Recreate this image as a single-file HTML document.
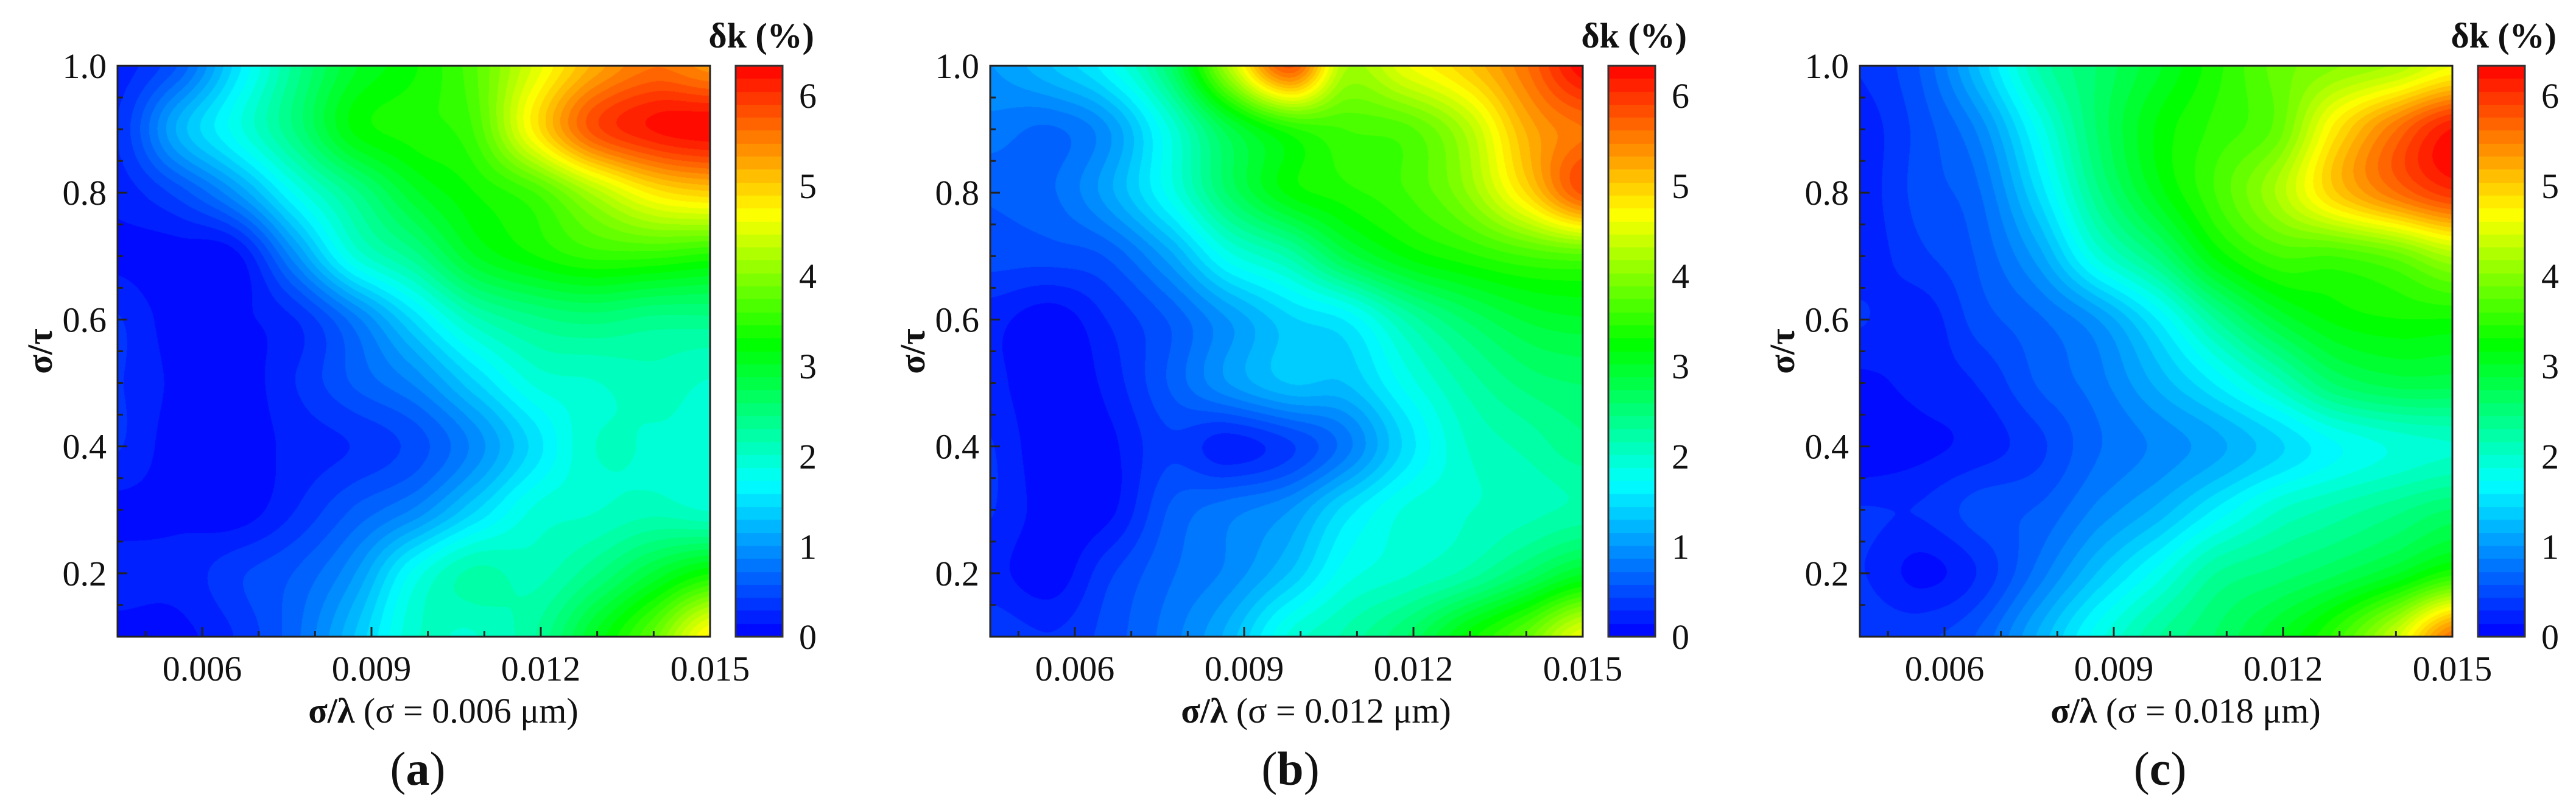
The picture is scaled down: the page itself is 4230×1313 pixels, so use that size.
<!DOCTYPE html>
<html><head><meta charset="utf-8"><style>
html,body{margin:0;padding:0;background:#fff;}
#root{position:relative;width:4230px;height:1313px;overflow:hidden;background:#fff;font-family:"Liberation Serif",serif;}
canvas{position:absolute;}
svg{position:absolute;left:0;top:0;}
svg text{font-family:"Liberation Serif",serif;}
</style></head><body>
<div id="root">
<svg id="ov" width="4230" height="1313"></svg>
</div>
<script>
const xVals=[0.0045,0.0056,0.0066,0.0077,0.0087,0.0098,0.0108,0.0119,0.0129,0.014,0.015];
const yVals=[1.0,0.9,0.8,0.7,0.6,0.5,0.4,0.3,0.2,0.1];
const panelAData=[
[0.2,0.6,1.5,2.4,3.0,3.3,3.7,4.5,5.2,5.6,5.4],
[0.3,1.2,1.8,2.5,3.2,3.4,3.6,4.8,5.8,6.2,6.3],
[0.2,0.5,1.0,1.8,2.4,3.0,3.3,3.6,4.2,4.8,5.0],
[0.1,0.05,0.1,1.0,1.9,2.4,3.0,3.3,3.5,3.5,3.4],
[0.3,0.05,0.1,0.3,0.8,1.5,2.1,2.4,2.5,2.4,2.4],
[0.3,0.1,0.05,0.3,0.6,0.9,1.4,1.9,2.0,2.1,2.0],
[0.3,0.05,0.05,0.2,0.3,0.5,0.9,1.5,2.0,2.0,2.0],
[0.1,0.1,0.05,0.3,0.6,0.9,1.4,1.9,2.0,2.1,2.0],
[0.2,0.2,0.4,0.6,1.0,1.8,2.2,2.1,2.4,2.9,3.3],
[0.1,0.1,0.3,0.7,1.3,2.0,2.0,2.3,3.0,3.8,4.8]];
const panelBData=[
[1.0,1.3,1.7,2.6,4.2,5.8,4.2,4.6,5.0,5.6,6.3],
[0.8,0.7,1.0,1.9,2.8,3.4,3.6,3.7,4.2,5.2,5.6],
[0.6,0.7,1.1,1.8,2.6,3.2,3.4,3.6,4.0,4.9,5.8],
[0.5,0.5,0.6,1.1,1.8,2.2,2.8,3.2,3.4,3.6,3.7],
[0.2,0.05,0.3,0.6,1.0,1.4,1.6,2.2,2.6,2.9,3.0],
[0.2,0.0,0.2,0.6,1.0,1.3,1.3,1.8,2.2,2.5,2.6],
[0.3,0.0,0.1,0.4,0.2,0.4,0.8,1.5,2.0,2.2,2.4],
[0.3,0.05,0.1,0.6,0.8,1.0,1.5,1.9,2.0,2.1,2.2],
[0.2,0.05,0.4,0.7,0.9,1.3,1.8,2.0,2.2,2.6,3.0],
[0.4,0.3,0.5,0.8,1.2,1.9,2.2,2.6,3.2,3.8,4.6]];
const panelCData=[
[0.3,0.6,1.3,2.2,2.6,3.0,3.4,3.8,4.0,4.2,4.6],
[0.2,0.5,0.9,1.8,2.6,3.2,3.5,3.8,4.8,5.6,6.2],
[0.2,0.5,0.7,1.5,2.4,3.1,3.6,4.2,5.0,5.6,6.0],
[0.2,0.4,0.6,1.1,1.9,2.5,3.2,3.6,3.6,3.8,4.2],
[0.3,0.2,0.5,0.7,1.0,1.6,2.3,2.9,3.2,3.3,3.3],
[0.1,0.2,0.3,0.6,0.8,1.2,1.6,2.1,2.6,2.8,2.8],
[0.0,0.1,0.2,0.4,0.7,0.9,1.1,1.4,1.7,1.9,2.0],
[0.3,0.3,0.5,0.6,0.9,1.2,1.6,2.0,2.2,2.4,2.6],
[0.3,0.1,0.3,0.8,1.3,1.8,2.3,2.5,2.7,3.0,3.4],
[0.4,0.4,0.6,1.2,1.8,2.3,2.6,3.0,3.5,4.4,5.6]];
const xTicks=[0.006,0.009,0.012,0.015];
const xTickLabels=["0.006","0.009","0.012","0.015"];
const yTicks=[0.2,0.4,0.6,0.8,1.0];
const yTickLabels=["0.2","0.4","0.6","0.8","1.0"];
const cbTicks=[0,1,2,3,4,5,6];
const panelLetters=["a","b","c"];
const sigmaLabels=["0.006","0.012","0.018"];

const XMIN=0.0045,XMAX=0.015,YMIN=0.1,YMAX=1.0,VMAX=6.33,NLEV=44;
const PW=973,PH=937,PT=108;
const offsets=[193,1626,3054];
const stops=[[0,0,0,255],[1.7,0,255,255],[3.24,0,255,0],[4.69,255,255,0],[5.27,255,165,0],[6.33,255,0,0]];
function col(v){
  v=Math.max(0,Math.min(VMAX-1e-6,v));
  v=(Math.floor(v/VMAX*NLEV)+0.5)/NLEV*VMAX;
  for(let i=1;i<stops.length;i++){if(v<=stops[i][0]){const a=stops[i-1],b=stops[i],t=(v-a[0])/(b[0]-a[0]);
    return [a[1]+(b[1]-a[1])*t,a[2]+(b[2]-a[2])*t,a[3]+(b[3]-a[3])*t];}}
  return [255,0,0];
}
function cr(p0,p1,p2,p3,t){return 0.5*((2*p1)+(-p0+p2)*t+(2*p0-5*p1+4*p2-p3)*t*t+(-p0+3*p1-3*p2+p3)*t*t*t);}
function idx(arr,v){
  const n=arr.length;
  for(let i=0;i<n-1;i++){const a=arr[i],b=arr[i+1];if((v-a)*(v-b)<=0){return i+(v-a)/(b-a);}}
  return v<arr[0]===arr[0]<arr[1]?0:n-1;
}
function sample(g,fx,fy){
  const nx=g[0].length,ny=g.length;
  const ix=Math.min(Math.floor(fx),nx-2),iy=Math.min(Math.floor(fy),ny-2);
  const tx=fx-ix,ty=fy-iy;
  const G=(r,c)=>g[Math.max(0,Math.min(ny-1,r))][Math.max(0,Math.min(nx-1,c))];
  const rows=[];
  for(let r=-1;r<=2;r++){rows.push(cr(G(iy+r,ix-1),G(iy+r,ix),G(iy+r,ix+1),G(iy+r,ix+2),tx));}
  return cr(rows[0],rows[1],rows[2],rows[3],ty);
}
const NS="http://www.w3.org/2000/svg";
const ov=document.getElementById('ov');
function S(tag,attrs,txt){const e=document.createElementNS(NS,tag);for(const k in attrs)e.setAttribute(k,attrs[k]);if(txt!==undefined)e.textContent=txt;ov.appendChild(e);return e;}
const datasets=[panelAData,panelBData,panelCData];
datasets.forEach((data,p)=>{
  const L=offsets[p];
  const sx=v=>L+(v-XMIN)/(XMAX-XMIN)*PW;
  const sy=v=>PT+(YMAX-v)/(YMAX-YMIN)*PH;
  const cv=document.createElement('canvas');
  
  
  cv.width=PW;cv.height=PH;cv.style.left=L+'px';cv.style.top=PT+'px';
  document.getElementById('root').insertBefore(cv,ov);
  const ctx=cv.getContext('2d');const im=ctx.createImageData(PW,PH);
  for(let py=0;py<PH;py++){
    const yv=YMAX-(py+0.5)/PH*(YMAX-YMIN);const fy=idx(yVals,yv);
    for(let px=0;px<PW;px++){
      const xv=XMIN+(px+0.5)/PW*(XMAX-XMIN);const fx=idx(xVals,xv);
      const c=col(sample(data,fx,fy));const o=(py*PW+px)*4;
      im.data[o]=c[0];im.data[o+1]=c[1];im.data[o+2]=c[2];im.data[o+3]=255;}
  }
  ctx.putImageData(im,0,0);
  const CBL=L+1015,CBW=77;
  const cb=document.createElement('canvas');
  
  
  cb.width=CBW;cb.height=PH;cb.style.left=CBL+'px';cb.style.top=PT+'px';
  document.getElementById('root').insertBefore(cb,ov);
  const c2=cb.getContext('2d');
  for(let py=0;py<PH;py++){const v=(PH-py-0.5)/PH*VMAX;const c=col(v);c2.fillStyle=`rgb(${c[0]|0},${c[1]|0},${c[2]|0})`;c2.fillRect(0,py,CBW,1);}
  const cy=v=>PT+PH-v/VMAX*PH;
  S('rect',{x:CBL,y:PT,width:CBW,height:PH,fill:'none',stroke:'#333','stroke-width':3,});
  cbTicks.forEach(t=>{S('text',{x:CBL+CBW+27,y:cy(t)+20,'font-size':58,fill:'#111',},String(t));});
  S('text',{x:CBL+CBW+52,y:78,'font-size':58,'font-weight':'bold','text-anchor':'end',fill:'#111',},'δk (%)');
  S('rect',{x:L,y:PT,width:PW,height:PH,fill:'none',stroke:'#222','stroke-width':3,});
  for(let k=0;k<=10;k++){const v=0.005+k*0.001;const X=sx(v);const maj=xTicks.some(t=>Math.abs(t-v)<1e-7);
    S('line',{x1:X,x2:X,y1:PT+PH,y2:PT+PH-(maj?16:9),stroke:'#222','stroke-width':3,});}
  for(let k=0;k<=18;k++){const v=0.1+k*0.05;const Y=sy(v);const maj=yTicks.some(t=>Math.abs(t-v)<1e-7);
    S('line',{x1:L,x2:L+(maj?16:9),y1:Y,y2:Y,stroke:'#222','stroke-width':3,});}
  xTicks.forEach((t,i)=>{S('text',{x:sx(t),y:1117,'font-size':58,'text-anchor':'middle',fill:'#111',},xTickLabels[i]);});
  yTicks.forEach((t,i)=>{S('text',{x:L-18,y:sy(t)+20,'font-size':58,'text-anchor':'end',fill:'#111',},yTickLabels[i]);});
  const xt=S('text',{x:L+535,y:1186,'font-size':58,'text-anchor':'middle',fill:'#111',});
  const b1=document.createElementNS(NS,'tspan');b1.setAttribute('font-weight','bold');b1.textContent='σ/λ';xt.appendChild(b1);
  const t2=document.createElementNS(NS,'tspan');t2.textContent=' (σ = '+sigmaLabels[p]+' μm)';xt.appendChild(t2);
  S('text',{x:0,y:0,transform:`translate(${L-108},${PT+PH/2}) rotate(-90)`,'font-size':58,'font-weight':'bold','text-anchor':'middle',fill:'#111',},'σ/τ');
  const pl=S('text',{x:L+493,y:1288,'font-size':78,'text-anchor':'middle',fill:'#111',});
  const a=document.createElementNS(NS,'tspan');a.textContent='(';pl.appendChild(a);
  const b=document.createElementNS(NS,'tspan');b.setAttribute('font-weight','bold');b.textContent=panelLetters[p];pl.appendChild(b);
  const c=document.createElementNS(NS,'tspan');c.textContent=')';pl.appendChild(c);
});
</script>
</body></html>
